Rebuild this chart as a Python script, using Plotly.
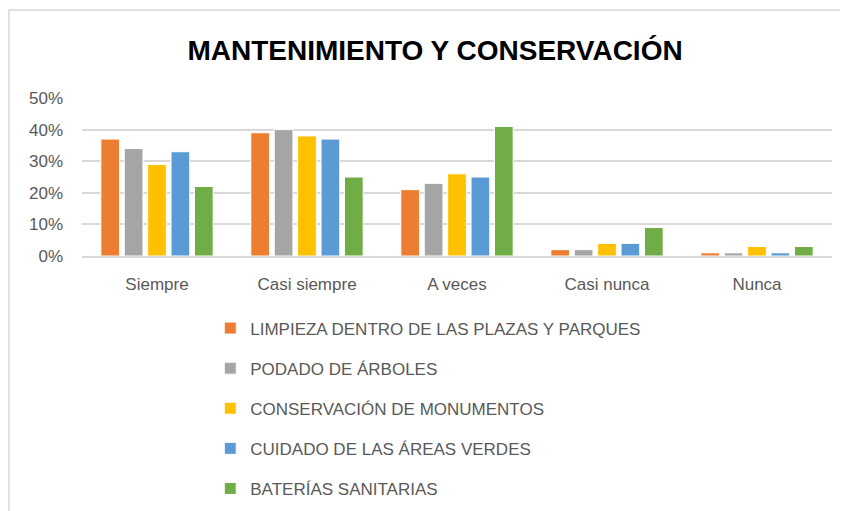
import plotly.graph_objects as go

categories = ["Siempre", "Casi siempre", "A veces", "Casi nunca", "Nunca"]
series_names = [
    "LIMPIEZA DENTRO DE LAS PLAZAS Y PARQUES",
    "PODADO DE ÁRBOLES",
    "CONSERVACIÓN DE MONUMENTOS",
    "CUIDADO DE LAS ÁREAS VERDES",
    "BATERÍAS SANITARIAS",
]
limpieza = [0.37, 0.39, 0.21, 0.02, 0.01]
podado = [0.34, 0.40, 0.23, 0.02, 0.01]
conservacion = [0.29, 0.38, 0.26, 0.04, 0.03]
cuidado = [0.33, 0.37, 0.25, 0.04, 0.01]
baterias = [0.22, 0.25, 0.41, 0.09, 0.03]
colors = ["#ED7D31", "#A5A5A5", "#FFC000", "#5B9BD5", "#70AD47"]
tick_vals = [0, 0.1, 0.2, 0.3, 0.4, 0.5]
tick_text = ["0%", "10%", "20%", "30%", "40%", "50%"]

FONT = "Liberation Sans, Arial, sans-serif"

fig = go.Figure()
for i, (name, vals) in enumerate(zip(series_names, [limpieza, podado, conservacion, cuidado, baterias])):
    fig.add_trace(go.Bar(
        x=categories, y=vals, name=name,
        marker=dict(color=colors[i], line=dict(color="white", width=1)),
        legendgroup=f"g{i}",
    ))

fig.update_layout(
    width=848, height=511,
    paper_bgcolor="white", plot_bgcolor="white",
    margin=dict(l=74, r=24, t=90, b=263, autoexpand=False),
    barmode="group", bargap=0.22, bargroupgap=0.2,
    title=dict(text="<b>MANTENIMIENTO Y CONSERVACIÓN</b>", x=427/848, xanchor="center",
               y=1 - 42/511, yanchor="middle",
               font=dict(family=FONT, size=28, color="black")),
    font=dict(family=FONT, size=17, color="#595959"),
    xaxis=dict(showgrid=False, showline=True, linecolor="#D9D9D9", linewidth=1.5,
               tickfont=dict(size=17, color="#595959"), ticks="", ticklabelstandoff=12),
    yaxis=dict(range=[0, 0.5], tickvals=tick_vals, ticktext=tick_text,
               showgrid=True, gridcolor="#D9D9D9", gridwidth=1.5, zeroline=False,
               tickfont=dict(size=17, color="#595959"), ticks="", ticklabelstandoff=18),
    legend=dict(x=0.171, y=-0.345, xanchor="left", yanchor="top",
                orientation="v", traceorder="grouped", tracegroupgap=15,
                font=dict(size=17, color="#595959"), itemwidth=30,
                bgcolor="rgba(0,0,0,0)"),
    shapes=[dict(type="rect", xref="paper", yref="paper",
                 x0=(1-74)/750, x1=(860-74)/750, y0=(248-520)/158, y1=(248-2)/158,
                 line=dict(color="#D9D9D9", width=1.5), fillcolor="rgba(0,0,0,0)", layer="below")],
)

fig.write_html("out.html")
